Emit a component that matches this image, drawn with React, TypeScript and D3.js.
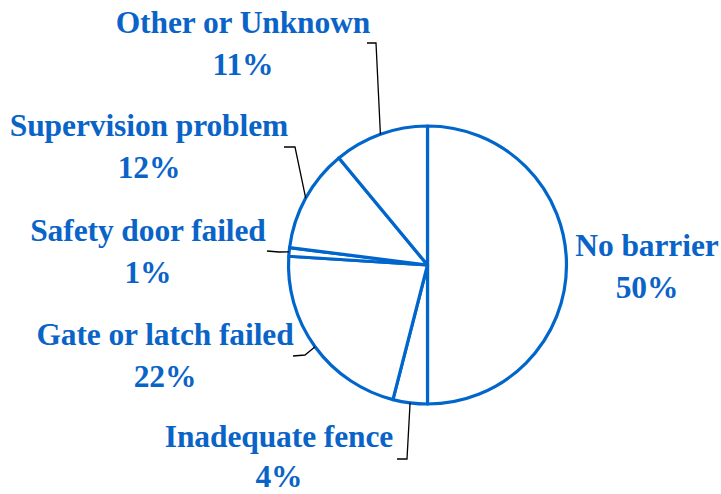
import React from "react";
import * as d3 from "d3";

const categories = ["No barrier", "Inadequate fence", "Gate or latch failed", "Safety door failed", "Supervision problem", "Other or Unknown"];
const values = [50, 4, 22, 1, 12, 11];
const percentLabels = ["50%", "4%", "22%", "1%", "12%", "11%"];

// label layout: [centerX, firstBaseline, lineGap], leader start & elbow (null = no leader)
const labelPos: [number, number, number][] = [[647, 256, 41.5], [279, 447, 40], [165, 345, 41.5], [148, 241, 41.5], [149, 136, 41.5], [243, 33, 41.5]];
const leaderPts: ([number, number][] | null)[] = [
  null,
  [[397, 459], [407, 459]],
  [[293, 356], [305, 355]],
  [[267, 251], [279, 252]],
  [[284, 147], [295, 147]],
  [[367, 43], [376, 43]],
];

const W = 721, H = 494;
const cx = 427.5, cy = 265, R = 139;
const BLUE = "#0066CC";
const TEXT = "#0A64C8";

export default function App() {
  const pie = d3.pie<number>().sort(null).value((d) => d);
  const arcs = pie(values);
  const arc = d3.arc<d3.PieArcDatum<number>>().innerRadius(0).outerRadius(R);
  const line = d3.line();
  return (
    <svg width={W} height={H} style={{ position: "absolute", left: 0, top: 0 }}>
      <rect width={W} height={H} fill="#fff" />
      <g transform={`translate(${cx},${cy})`}>
        {arcs.map((a, i) => (
          <path key={i} d={arc(a) || ""} fill="#fff" stroke={BLUE} strokeWidth={3.2} strokeLinejoin="round" />
        ))}
      </g>
      {arcs.map((a, i) => {
        const pts = leaderPts[i];
        if (!pts) return null;
        const mid = (a.startAngle + a.endAngle) / 2;
        const end: [number, number] = [cx + R * Math.sin(mid), cy - R * Math.cos(mid)];
        return <path key={i} d={line([...pts, end]) || ""} fill="none" stroke="#000" strokeWidth={1.3} />;
      })}
      {categories.map((c, i) => (
        <text key={i} x={labelPos[i][0]} y={labelPos[i][1]} textAnchor="middle" fill={TEXT}
          fontFamily="'Liberation Serif', 'Times New Roman', serif" fontWeight="bold" fontSize={31.5} letterSpacing={-0.1}>
          <tspan x={labelPos[i][0]}>{c}</tspan>
          <tspan x={labelPos[i][0]} dy={labelPos[i][2]}>{percentLabels[i]}</tspan>
        </text>
      ))}
    </svg>
  );
}
